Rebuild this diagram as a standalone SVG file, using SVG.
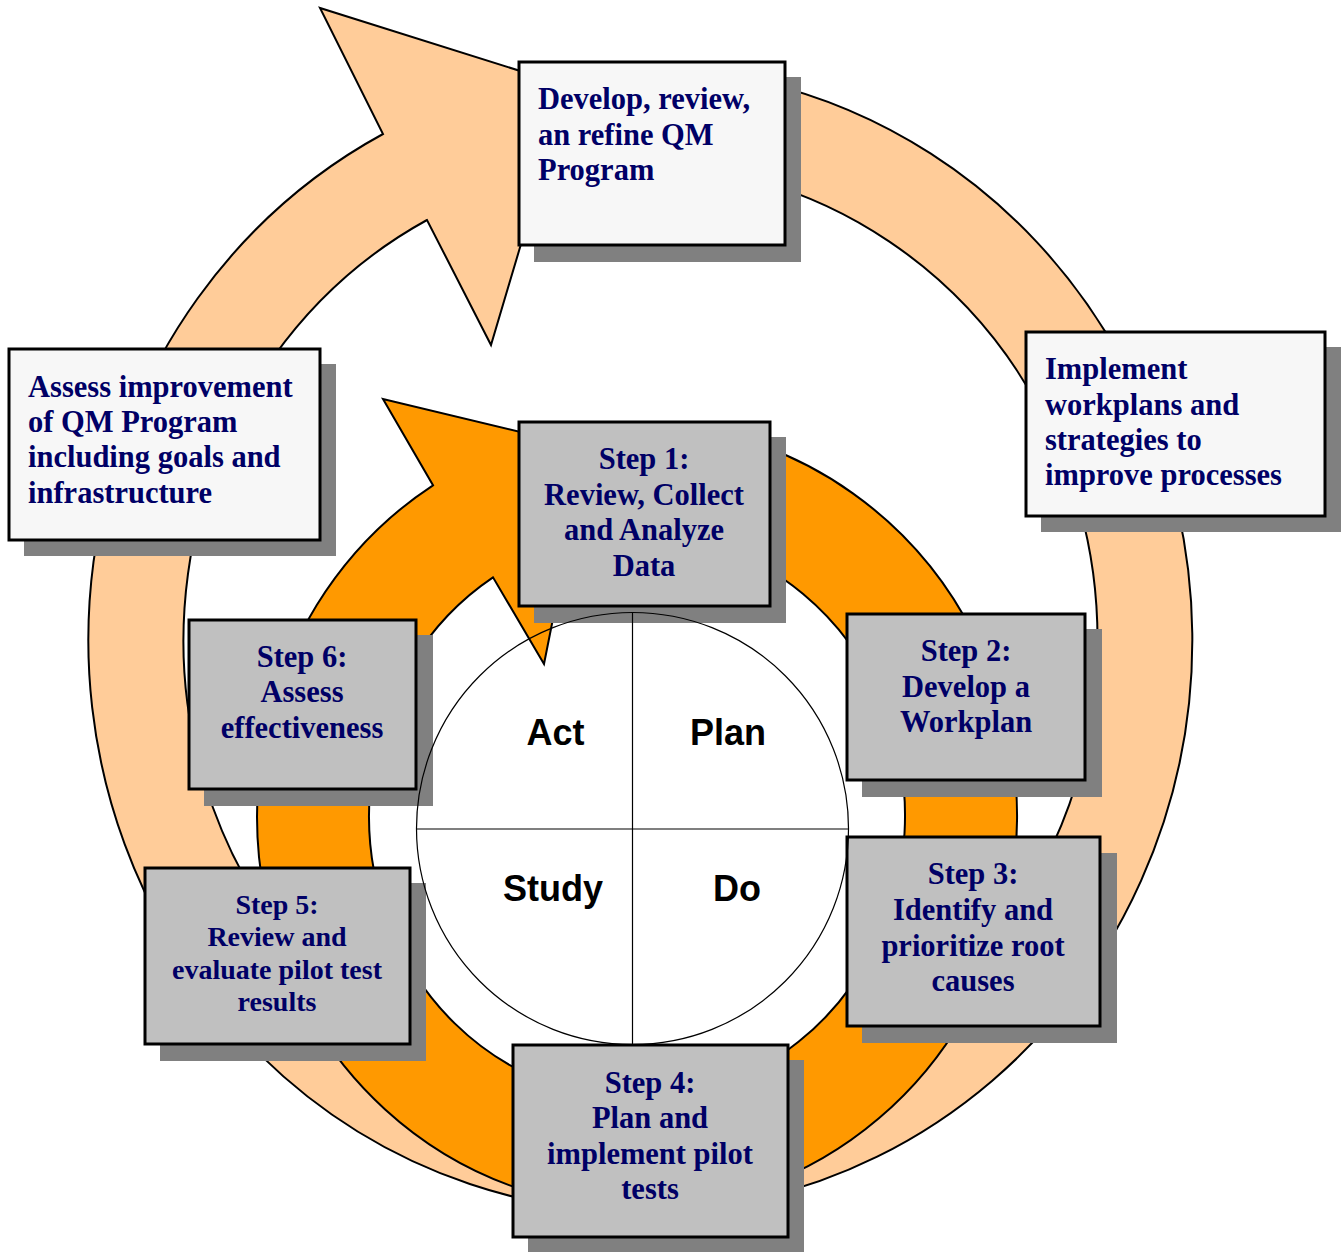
<svg xmlns="http://www.w3.org/2000/svg" width="1343" height="1252" viewBox="0 0 1343 1252">
  <style>
    .arrow { stroke: #000; stroke-width: 2; stroke-linejoin: miter; }
    .outer { fill: #FFCC99; }
    .inner { fill: #FF9900; }
    .shadow { fill: #808080; }
    .box { stroke: #000; stroke-width: 3; }
    .light { fill: #F7F7F7; }
    .gray { fill: #C0C0C0; }
    .lbl { font-family: "Liberation Serif", "Times New Roman", serif; font-weight: bold; font-size: 30.5px; fill: #000066; }
    .small { font-size: 28px; }
    .mid { text-anchor: middle; }
    .quad { font-family: "Liberation Sans", Arial, sans-serif; font-weight: bold; font-size: 36px; fill: #000; text-anchor: middle; }
  </style>

  <!-- cycle arrows -->
  <g id="connectors">
    <!-- outer program-level cycle -->
    <path class="arrow outer" d="M 700 71.4 A 552 572 0 1 1 383 134 L 320 8 L 568 86 L 491 345 L 427 220 A 457 475 0 1 0 700 169 Z"/>
    <!-- inner step cycle -->
    <path class="arrow inner" d="M 700 429.4 A 380 392 0 1 1 433 485.3 L 383 399 L 587 448 L 544 664 L 493 577.3 A 268 283 0 1 0 700 540.9 Z"/>
  </g>

  <g id="develop">
    <rect class="shadow" x="534" y="77" width="267" height="185"/>
    <rect class="box light" x="519" y="62" width="266" height="183"/>
    <text class="lbl" x="538" y="109">Develop, review,</text>
    <text class="lbl" x="538" y="144.5">an refine QM</text>
    <text class="lbl" x="538" y="180">Program</text>
  </g>

  <g id="implement">
    <rect class="shadow" x="1041" y="347" width="300" height="185"/>
    <rect class="box light" x="1026" y="332" width="299" height="184"/>
    <text class="lbl" x="1045" y="379">Implement</text>
    <text class="lbl" x="1045" y="414.5">workplans and</text>
    <text class="lbl" x="1045" y="450">strategies to</text>
    <text class="lbl" x="1045" y="485">improve processes</text>
  </g>

  <g id="assess">
    <rect class="shadow" x="24" y="364" width="312" height="192"/>
    <rect class="box light" x="9" y="349" width="311" height="191"/>
    <text class="lbl" x="28" y="397">Assess improvement</text>
    <text class="lbl" x="28" y="432">of QM Program</text>
    <text class="lbl" x="28" y="467">including goals and</text>
    <text class="lbl" x="28" y="503">infrastructure</text>
  </g>

  <g id="step1">
    <rect class="shadow" x="534" y="437" width="252" height="186"/>
    <rect class="box gray" x="519" y="422" width="251" height="184"/>
    <text class="lbl mid" x="644" y="469">Step 1:</text>
    <text class="lbl mid" x="644" y="504.5">Review, Collect</text>
    <text class="lbl mid" x="644" y="540">and Analyze</text>
    <text class="lbl mid" x="644" y="575.5">Data</text>
  </g>

  <g id="step2">
    <rect class="shadow" x="862" y="629" width="240" height="168"/>
    <rect class="box gray" x="847" y="614" width="238" height="166"/>
    <text class="lbl mid" x="966" y="661">Step 2:</text>
    <text class="lbl mid" x="966" y="696.5">Develop a</text>
    <text class="lbl mid" x="966" y="732">Workplan</text>
  </g>

  <g id="step3">
    <rect class="shadow" x="862" y="853" width="255" height="190"/>
    <rect class="box gray" x="847" y="837" width="253" height="189"/>
    <text class="lbl mid" x="973" y="884">Step 3:</text>
    <text class="lbl mid" x="973" y="920">Identify and</text>
    <text class="lbl mid" x="973" y="955.5">prioritize root</text>
    <text class="lbl mid" x="973" y="991">causes</text>
  </g>

  <g id="step4">
    <rect class="shadow" x="528" y="1060" width="276" height="192"/>
    <rect class="box gray" x="513" y="1045" width="275" height="192"/>
    <text class="lbl mid" x="650" y="1093">Step 4:</text>
    <text class="lbl mid" x="650" y="1128">Plan and</text>
    <text class="lbl mid" x="650" y="1163.5">implement pilot</text>
    <text class="lbl mid" x="650" y="1199">tests</text>
  </g>

  <g id="step5">
    <rect class="shadow" x="160" y="883" width="266" height="178"/>
    <rect class="box gray" x="145" y="868" width="265" height="176"/>
    <text class="lbl small mid" x="277" y="914">Step 5:</text>
    <text class="lbl small mid" x="277" y="946">Review and</text>
    <text class="lbl small mid" x="277" y="979">evaluate pilot test</text>
    <text class="lbl small mid" x="277" y="1011">results</text>
  </g>

  <g id="step6">
    <rect class="shadow" x="204" y="635" width="229" height="171"/>
    <rect class="box gray" x="189" y="620" width="227" height="169"/>
    <text class="lbl mid" x="302" y="667">Step 6:</text>
    <text class="lbl mid" x="302" y="702">Assess</text>
    <text class="lbl mid" x="302" y="738">effectiveness</text>
  </g>

  <!-- PDSA wheel in the middle -->
  <g id="pdsa">
    <circle cx="632.5" cy="828.5" r="216" fill="none" stroke="#000" stroke-width="1.2"/>
    <line x1="632.5" y1="612.5" x2="632.5" y2="1044.5" stroke="#000" stroke-width="1.2"/>
    <line x1="416.5" y1="829" x2="848.5" y2="829" stroke="#000" stroke-width="1.2"/>
    <text class="quad" x="555.5" y="745">Act</text>
    <text class="quad" x="728" y="745">Plan</text>
    <text class="quad" x="553" y="901">Study</text>
    <text class="quad" x="737" y="901">Do</text>
  </g>
</svg>
